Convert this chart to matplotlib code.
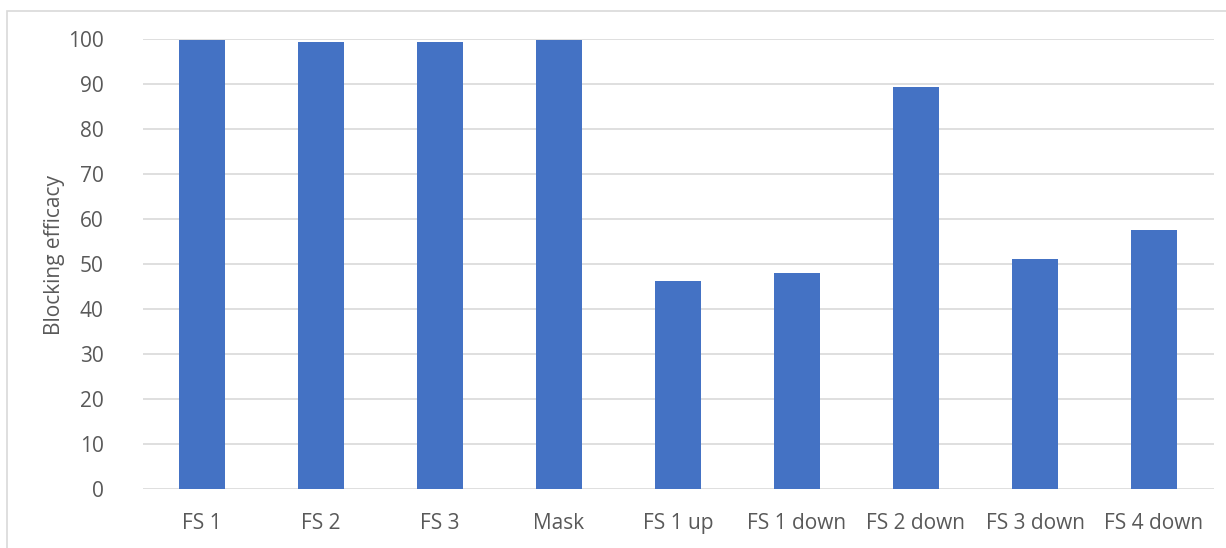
import matplotlib
matplotlib.use("Agg")
import matplotlib.pyplot as plt
from matplotlib.patches import Rectangle

categories = ["FS 1", "FS 2", "FS 3", "Mask", "FS 1 up", "FS 1 down",
              "FS 2 down", "FS 3 down", "FS 4 down"]
efficacy = [99.8, 99.4, 99.4, 99.8, 46.3, 47.9, 89.3, 51.2, 57.6]
yticks = list(range(0, 101, 10))

plt.rcParams["font.family"] = ["Open Sans", "DejaVu Sans"]
text_col = "#595959"

fig = plt.figure(figsize=(12.26, 5.48), dpi=100)
# chart frame (left and top edges visible)
fig.patches.append(Rectangle((7 / 1226, -0.1), 1.2, 1 - 11 / 548 + 0.1,
                             transform=fig.transFigure, fill=False,
                             edgecolor="#d9d9d9", linewidth=1.2))

ax = fig.add_axes([142.5 / 1226, 59 / 548, 1071 / 1226, 450 / 548])
x = range(len(categories))
ax.bar(x, efficacy, width=0.39, color="#4472c4", zorder=3)

ax.set_xlim(-0.5, len(categories) - 0.5)
ax.set_ylim(0, 100)
ax.set_yticks(yticks)
ax.set_xticks(list(x))
ax.set_xticklabels(categories)
ax.yaxis.grid(True, color="#d9d9d9", linewidth=1.2, zorder=0)
ax.set_axisbelow(True)
for s in ax.spines.values():
    s.set_visible(False)
ax.tick_params(axis="both", length=0, colors=text_col, labelsize=15)
ax.tick_params(axis="x", pad=17)
ax.tick_params(axis="y", pad=28)
ax.set_ylabel("Blocking efficacy", color=text_col, fontsize=15, labelpad=0)
ax.yaxis.set_label_coords(-0.072, 0.52)

fig.savefig("out.png", dpi=100, facecolor="white")
